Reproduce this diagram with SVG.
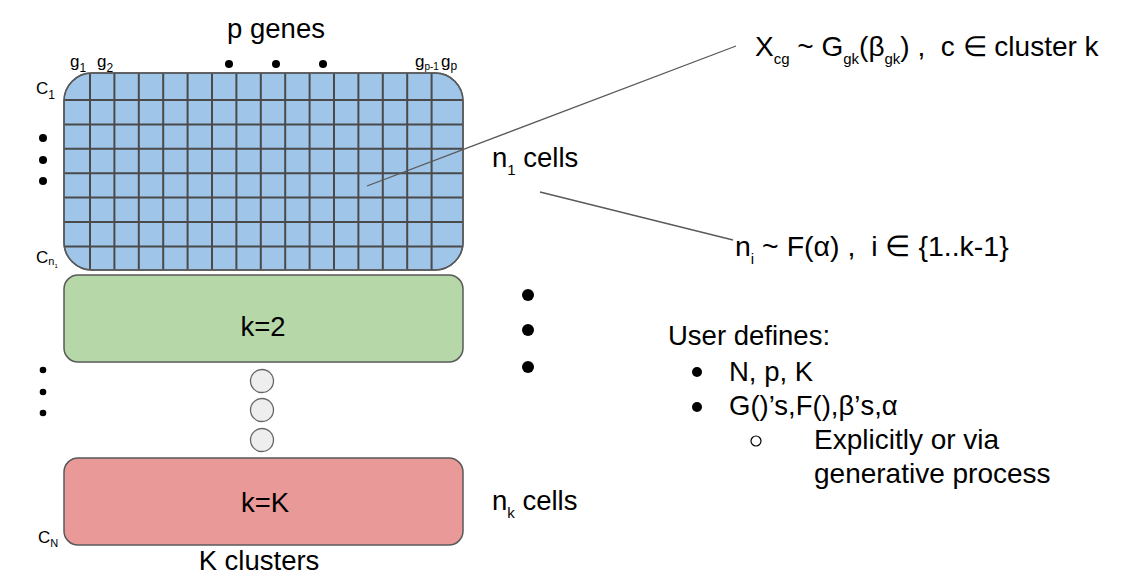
<svg xmlns="http://www.w3.org/2000/svg" width="1128" height="587" viewBox="0 0 1128 587">
<style>
text{font-family:"Liberation Sans",Arial,sans-serif;fill:#000}
.big{font-size:27.5px}
.sm{font-size:17px}
.box{stroke:#595959;stroke-width:1.5}
.grid{stroke:#4a4a4a;stroke-width:2}
.conn{stroke:#595959;stroke-width:1.3;fill:none}
.dot{fill:#000}
.el{fill:#eeeeee;stroke:#666;stroke-width:1.3}
</style>
<defs>
<clipPath id="clipBlue"><rect x="64" y="73" width="399" height="197" rx="28" ry="28"/></clipPath>
</defs>
<rect width="1128" height="587" fill="#fff"/>

<g id="cluster1">
<rect class="box" x="64" y="73" width="399" height="197" rx="28" ry="28" fill="#9fc5e8"/>
<g class="grid" clip-path="url(#clipBlue)">
<path d="M90 73V270M114.4 73V270M138.8 73V270M163.2 73V270M187.6 73V270M212 73V270M236.4 73V270M260.8 73V270M285.2 73V270M309.6 73V270M334 73V270M358.4 73V270M382.8 73V270M407.2 73V270M431.6 73V270"/>
<path d="M64 100H463M64 124.4H463M64 148.8H463M64 173.2H463M64 197.6H463M64 222H463M64 246.4H463"/>
</g>
<rect x="64" y="73" width="399" height="197" rx="28" ry="28" fill="none" class="box"/>
</g>

<g id="cluster2">
<rect class="box" x="64" y="275" width="399" height="87" rx="14" ry="14" fill="#b6d7a8"/>
<text class="big" x="263" y="336" text-anchor="middle">k=2</text>
</g>

<g id="ellipsis-circles">
<circle class="el" cx="262" cy="381" r="11.5"/>
<circle class="el" cx="262" cy="410" r="11.5"/>
<circle class="el" cx="262" cy="440" r="11.5"/>
</g>

<g id="clusterK">
<rect class="box" x="64" y="458" width="399" height="87" rx="14" ry="14" fill="#ea9999"/>
<text class="big" x="265" y="512" text-anchor="middle">k=K</text>
</g>

<g id="labels">
<text class="big" x="276" y="38" text-anchor="middle">p genes</text>
<circle class="dot" cx="229" cy="64" r="4"/>
<circle class="dot" cx="276" cy="64" r="4"/>
<circle class="dot" cx="323" cy="64" r="4"/>
<text class="sm" x="70" y="67">g<tspan font-size="12" dy="5">1</tspan></text>
<text class="sm" x="97" y="67">g<tspan font-size="12" dy="5">2</tspan></text>
<text class="sm" x="415" y="67">g<tspan font-size="10" dy="3">p-1</tspan></text>
<text class="sm" x="441" y="67">g<tspan font-size="12" dy="3">p</tspan></text>
<text class="sm" x="36" y="94">C<tspan font-size="12" dy="5">1</tspan></text>
<text class="sm" x="36" y="263">C<tspan font-size="11" dy="2">n</tspan><tspan font-size="6" dy="3">1</tspan></text>
<text class="sm" x="38" y="543">C<tspan font-size="11" dy="4">N</tspan></text>
<circle class="dot" cx="43" cy="138" r="4"/>
<circle class="dot" cx="43" cy="160" r="4"/>
<circle class="dot" cx="43" cy="181" r="4"/>
<circle class="dot" cx="43" cy="370" r="3.3"/>
<circle class="dot" cx="43" cy="392" r="3.3"/>
<circle class="dot" cx="43" cy="413" r="3.3"/>
<circle class="dot" cx="528" cy="295" r="6"/>
<circle class="dot" cx="528" cy="330" r="6"/>
<circle class="dot" cx="528" cy="367" r="6"/>
<text class="big" x="259" y="570" text-anchor="middle">K clusters</text>
<text class="big" x="492" y="167">n<tspan font-size="15" dy="8">1</tspan><tspan dy="-8"> cells</tspan></text>
<text class="big" x="492" y="510">n<tspan font-size="15" dy="8">k</tspan><tspan dy="-8"> cells</tspan></text>
<text x="755" y="56" font-size="28" xml:space="preserve">X<tspan font-size="15" dy="8">cg</tspan><tspan dy="-8"> ~ G</tspan><tspan font-size="15" dy="8">gk</tspan><tspan dy="-8">(β</tspan><tspan font-size="15" dy="8">gk</tspan><tspan dy="-8">) ,  c ∈ cluster k</tspan></text>
<text x="735" y="256" font-size="28.5" xml:space="preserve">n<tspan font-size="15" dy="8">i</tspan><tspan dy="-8"> ~ F(α) ,  i ∈ {1..k-1}</tspan></text>
<text class="big" x="668" y="345">User defines:</text>
<circle class="dot" cx="697" cy="372" r="5"/>
<text class="big" x="729" y="381">N, p, K</text>
<circle class="dot" cx="697" cy="407" r="5"/>
<text class="big" x="729" y="415">G()’s,F(),β’s,α</text>
<circle cx="756" cy="441" r="5" fill="none" stroke="#000" stroke-width="1.2"/>
<text x="814" y="449" font-size="28">Explicitly or via</text>
<text x="814" y="483" font-size="28">generative process</text>
</g>

<g id="connectors">
<line class="conn" x1="367" y1="186" x2="736" y2="46"/>
<line class="conn" x1="540" y1="192" x2="733" y2="240"/>
</g>
</svg>
